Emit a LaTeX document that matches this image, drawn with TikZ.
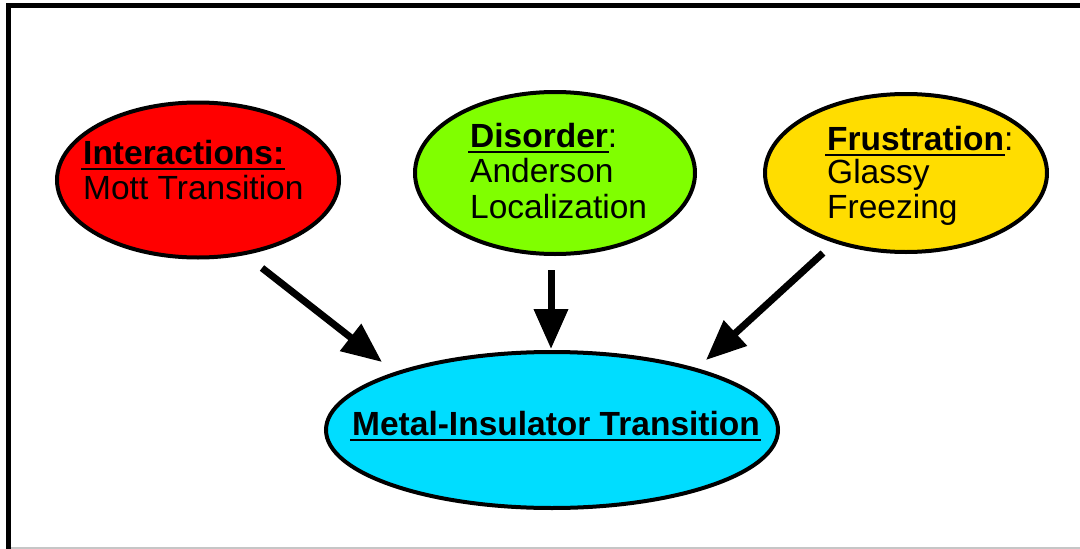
\documentclass[tikz,border=0pt]{standalone}
\usepackage{fontspec}
\setmainfont{Liberation Sans}
\usetikzlibrary{shapes.geometric,arrows.meta}
\definecolor{cRed}{HTML}{FF0000}
\definecolor{cGreen}{HTML}{80FF00}
\definecolor{cYellow}{HTML}{FFDD00}
\definecolor{cCyan}{HTML}{00DDFF}
\newcommand\myul[1]{\leavevmode\setbox0\hbox{#1}\rlap{\hspace{-2pt}\raisebox{-5.5pt}{\rule{\dimexpr\wd0+3pt\relax}{2pt}}}\box0}
\tikzset{
  bubble/.style={ellipse, draw=black, line width=4pt, inner sep=0pt},
  txt/.style={anchor=base west, inner sep=0pt, font=\fontsize{33.5}{35}\selectfont},
  arr/.style={line width=7pt, -{Triangle[length=40pt,width=33pt]}},
}
\begin{document}
\begin{tikzpicture}[x=1pt,y=-1pt]
\useasboundingbox (0,0) rectangle (1080,549);
\fill[white] (0,0) rectangle (1080,549);
\draw[gray!45, line width=1.2pt] (11,548) -- (1080,548);
\draw[black, line width=5pt] (8.5,560) -- (8.5,5.5) -- (1090,5.5);

\node[bubble, fill=cRed, minimum width=282pt, minimum height=155pt] (inter) at (198,180) {};
\node[bubble, fill=cGreen, minimum width=280pt, minimum height=162pt] (dis) at (555,173) {};
\node[bubble, fill=cYellow, minimum width=282pt, minimum height=158pt] (frus) at (906,173) {};
\node[bubble, fill=cCyan, minimum width=452pt, minimum height=156pt] (mit) at (552,430) {};

\node[txt] (t1a) at (83,164) {\myul{\bfseries Interactions:}};
\node[txt] (t1b) at (83,199) {Mott Transition};
\node[txt] (t2a) at (470,147) {\myul{\bfseries Disorder}:};
\node[txt] (t2b) at (470,182) {Anderson};
\node[txt] (t2c) at (470,218) {Localization};
\node[txt] (t3a) at (827,150) {\myul{\bfseries Frustration}:};
\node[txt] (t3b) at (827,183) {Glassy};
\node[txt] (t3c) at (827,218) {Freezing};
\node[txt] (t4) at (352,435) {\myul{\bfseries Metal-Insulator Transition}};

\coordinate (a1s) at (262,268);
\coordinate (a1e) at (382,362);
\coordinate (a2s) at (551,270);
\coordinate (a2e) at (551,349);
\coordinate (a3s) at (823,253);
\coordinate (a3e) at (706,360);
\draw[arr] (a1s) -- (a1e);
\draw[arr] (a2s) -- (a2e);
\draw[arr] (a3s) -- (a3e);
\end{tikzpicture}
\end{document}
